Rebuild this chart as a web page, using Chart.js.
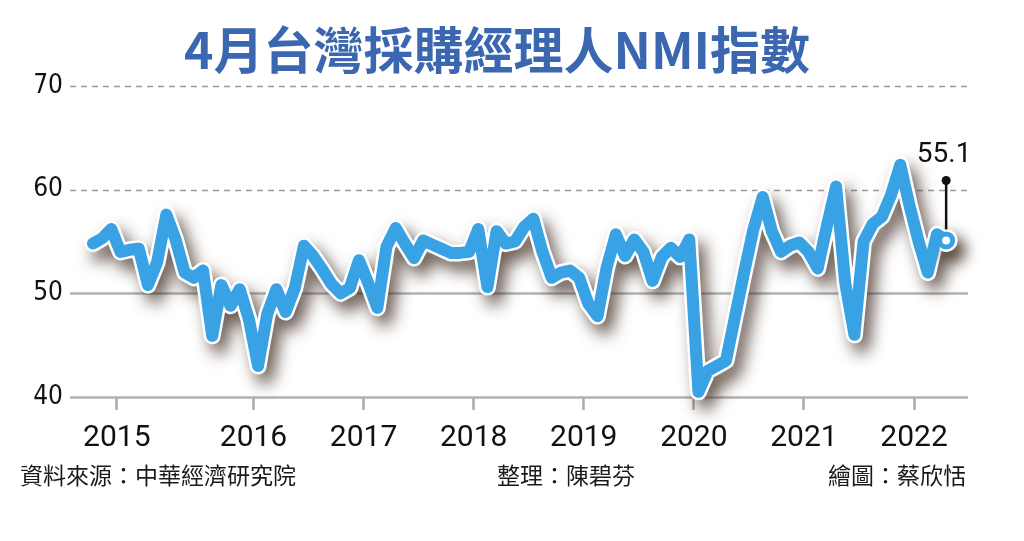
<!DOCTYPE html>
<html>
<head>
<meta charset="utf-8">
<script src="https://cdn.jsdelivr.net/npm/chart.js@4.4.1/dist/chart.umd.min.js"></script>
<style>
html,body{margin:0;padding:0;background:#fff;width:1024px;height:541px;overflow:hidden;}
#wrap{position:relative;width:1024px;height:541px;}
#c{position:absolute;left:0;top:0;}
.t{position:absolute;white-space:nowrap;font-family:'Noto Sans CJK TC','Noto Sans CJK SC',sans-serif;color:#1a1a1a;}
#title{left:0;width:994px;text-align:center;top:20px;font-size:50px;line-height:54px;font-weight:700;color:#3b67b0;}
.foot{top:461px;font-size:23px;line-height:26px;}
</style>
</head>
<body>
<div id="wrap">
<canvas id="c" width="1024" height="541"></canvas>
<div class="t" id="title">4月台灣採購經理人NMI指數</div>
<div class="t foot" style="left:20px;">資料來源：中華經濟研究院</div>
<div class="t foot" style="left:497px;">整理：陳碧芬</div>
<div class="t foot" style="right:58px;">繪圖：蔡欣恬</div>
</div>
<script>
// Monthly NMI values, oldest to latest
const nmiValues = [
 54.8, 55.3, 56.2, 54.0, 54.2, 54.3, 50.8, 53.0, 57.6, 55.2,
 52.0, 51.5, 52.2, 45.9, 50.8, 48.8, 50.4, 47.5, 43.0, 48.0,
 50.4, 48.2, 50.5, 54.6, 53.6, 52.3, 50.9, 50.0, 50.5, 53.2,
 51.0, 48.6, 54.5, 56.3, 54.8, 53.4, 55.1, 54.7, 54.3, 53.9,
 53.9, 54.0, 56.2, 50.6, 56.0, 54.8, 55.0, 56.4, 57.2, 54.0,
 51.5, 52.0, 52.2, 51.5, 49.0, 47.8, 52.5, 55.7, 53.6, 55.2,
 54.0, 51.2, 53.5, 54.4, 53.5, 55.2, 40.5, 42.5, 43.0, 43.5,
 47.8, 52.1, 56.2, 59.3, 56.0, 54.0, 54.6, 54.9, 54.0, 52.4,
 56.5, 60.3, 51.0, 46.0, 55.0, 56.7, 57.4, 59.5, 62.4, 58.5,
 55.0, 52.0, 55.7, 55.1
];
// Year tick labels and where they sit (in month-index units)
const yearTickLabels = ['2015','2016','2017','2018','2019','2020','2021','2022'];
const yearTickAt = [2.6, 17.5, 29.5, 41.5, 53.5, 65.5, 77.5, 89.5];
// Y axis ticks
const yTickValues = [40, 50, 60, 70];
const latestLabel = '55.1';

const lineBlue = '#38a2e4';
const toPoints = () => nmiValues.map((v, i) => ({x: i, y: v}));
const lastIdx = nmiValues.length - 1;
const OUTLINE = 1; // dataset index of the white outline (drawn first, behind)

const decor = {
  id: 'decor',
  beforeDatasetsDraw(chart) {
    const {ctx, chartArea: a, scales: {y}} = chart;
    ctx.save();
    yTickValues.forEach(v => {
      const py = Math.round(y.getPixelForValue(v)) + 0.5;
      ctx.beginPath();
      if (v > 50) { ctx.setLineDash([6, 5]); ctx.strokeStyle = '#9a9a9a'; ctx.lineWidth = 1.5; }
      else { ctx.setLineDash([]); ctx.strokeStyle = '#b2b2b2'; ctx.lineWidth = 2.5; }
      ctx.moveTo(a.left, py); ctx.lineTo(a.right - 2, py); ctx.stroke();
    });
    ctx.restore();
  },
  beforeDatasetDraw(chart, args) {
    if (args.index === OUTLINE) {
      const ctx = chart.ctx;
      ctx.save();
      ctx.shadowColor = 'rgba(60,40,30,0.75)';
      ctx.shadowBlur = 16;
      ctx.shadowOffsetX = 7;
      ctx.shadowOffsetY = 10;
    }
  },
  afterDatasetDraw(chart, args) {
    if (args.index === OUTLINE) chart.ctx.restore();
  },
  afterDatasetsDraw(chart) {
    const ctx = chart.ctx;
    const pt = chart.getDatasetMeta(0).data[lastIdx];
    const x = pt.x, y0 = pt.y;
    ctx.save();
    ctx.strokeStyle = '#111';
    ctx.lineWidth = 2.5;
    ctx.beginPath();
    ctx.moveTo(x, y0 - 11);
    ctx.lineTo(x, y0 - 60);
    ctx.stroke();
    ctx.fillStyle = '#111';
    ctx.beginPath();
    ctx.arc(x, y0 - 60, 4.5, 0, Math.PI * 2);
    ctx.fill();
    ctx.font = '28px Roboto, "Noto Sans", sans-serif';
    ctx.textAlign = 'center';
    ctx.textBaseline = 'middle';
    ctx.fillText(latestLabel, x - 2, y0 - 85);
    ctx.restore();
  }
};

new Chart(document.getElementById('c'), {
  type: 'line',
  data: {
    datasets: [
      {
        data: toPoints(),
        borderColor: lineBlue,
        borderWidth: 12,
        borderJoinStyle: 'round',
        borderCapStyle: 'round',
        tension: 0,
        fill: false,
        clip: false,
        pointRadius: c => c.dataIndex === lastIdx ? 6.5 : 0,
        pointBackgroundColor: '#ffffff',
        pointBorderColor: lineBlue,
        pointBorderWidth: 5,
        pointHoverRadius: 0
      },
      {
        data: toPoints(),
        borderColor: '#ffffff',
        borderWidth: 17,
        borderJoinStyle: 'round',
        borderCapStyle: 'round',
        tension: 0,
        fill: false,
        clip: false,
        pointRadius: c => c.dataIndex === lastIdx ? 11.5 : 0,
        pointBackgroundColor: '#ffffff',
        pointBorderColor: '#ffffff',
        pointBorderWidth: 0,
        pointHoverRadius: 0
      }
    ]
  },
  options: {
    responsive: false,
    animation: false,
    devicePixelRatio: 1,
    events: [],
    layout: {padding: {left: 0, right: 54, top: 86, bottom: 0}},
    plugins: {legend: {display: false}, tooltip: {enabled: false}, title: {display: false}},
    scales: {
      x: {
        type: 'linear',
        min: -2.5,
        max: 95.6,
        afterBuildTicks: s => { s.ticks = yearTickAt.map(v => ({value: v})); },
        afterFit: s => { s.height = 144; },
        grid: {drawOnChartArea: false, drawTicks: true, tickLength: 13, tickColor: '#aaaaaa', tickWidth: 2.5},
        border: {display: false},
        ticks: {
          autoSkip: false, maxRotation: 0, padding: 10, color: '#111',
          font: {family: 'Roboto, "Noto Sans", sans-serif', size: 30, weight: '400'},
          callback: (v, i) => yearTickLabels[i]
        }
      },
      y: {
        min: 40,
        max: 70,
        afterBuildTicks: s => { s.ticks = yTickValues.map(v => ({value: v})); },
        afterFit: s => { s.width = 70; },
        grid: {display: false, drawTicks: false},
        border: {display: false},
        ticks: {
          padding: 7, color: '#111',
          font: {family: '"Liberation Sans Narrow", "DejaVu Sans Condensed", sans-serif', size: 26},
          callback: v => String(v)
        }
      }
    }
  },
  plugins: [decor]
});
</script>
</body>
</html>
